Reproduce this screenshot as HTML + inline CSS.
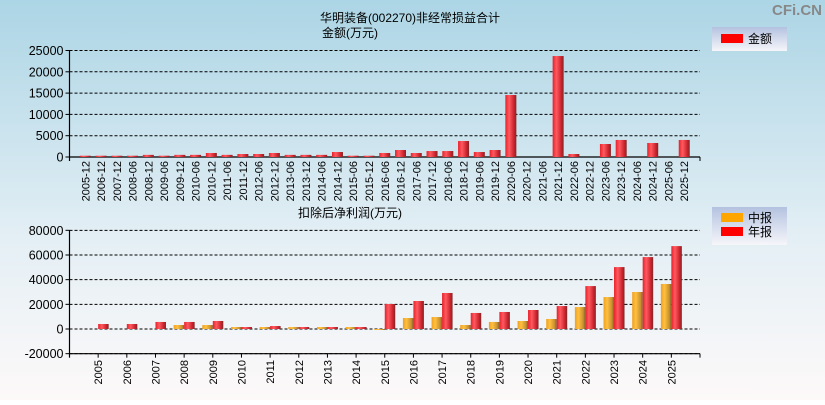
<!DOCTYPE html>
<html><head><meta charset="utf-8"><style>
html,body{margin:0;padding:0;}
body{width:825px;height:400px;overflow:hidden;font-family:"Liberation Sans","Noto Sans CJK SC",sans-serif;}
</style></head><body>
<svg id="c" width="825" height="400" xmlns="http://www.w3.org/2000/svg" style="font-family:'Liberation Sans','Noto Sans CJK SC',sans-serif">
<defs>
<linearGradient id="bg" x1="0" y1="0" x2="0" y2="1"><stop offset="0" stop-color="#acd5e5"/><stop offset="0.6" stop-color="#e4eff5"/><stop offset="1" stop-color="#fdf9f9"/></linearGradient>
<linearGradient id="rg" x1="0" y1="0" x2="1" y2="0"><stop offset="0" stop-color="#e8202a"/><stop offset="0.35" stop-color="#ff5a60"/><stop offset="0.8" stop-color="#c8202a"/><stop offset="1" stop-color="#7a2a2a"/></linearGradient>
<linearGradient id="og" x1="0" y1="0" x2="1" y2="0"><stop offset="0" stop-color="#f0a020"/><stop offset="0.35" stop-color="#ffc040"/><stop offset="0.8" stop-color="#c89030"/><stop offset="1" stop-color="#806030"/></linearGradient>
<linearGradient id="lg" x1="0" y1="0" x2="0" y2="1"><stop offset="0" stop-color="#b4c2e0"/><stop offset="1" stop-color="#f6f6fa"/></linearGradient>
</defs>
<rect width="825" height="400" fill="url(#bg)"/>
<text x="822" y="15" text-anchor="end" font-size="15" font-weight="bold" fill="#888">CFi.CN</text>
<text x="410" y="22" text-anchor="middle" font-size="12">华明装备(002270)非经常损益合计</text>
<text x="322" y="37" font-size="12">金额(万元)</text>
<text x="298" y="217" font-size="12">扣除后净利润(万元)</text>
<g>
<rect x="712" y="27" width="75" height="24" fill="url(#lg)"/>
<rect x="721" y="34" width="22" height="9" fill="#ff0000"/>
<text x="748" y="43" font-size="12">金额</text>
</g>
<g>
<rect x="712" y="207" width="75" height="38" fill="url(#lg)"/>
<rect x="721" y="213" width="22" height="9" fill="#ffa500"/>
<text x="748" y="222" font-size="12">中报</text>
<rect x="721" y="227" width="22" height="9" fill="#ff0000"/>
<text x="748" y="236" font-size="12">年报</text>
</g>
<g id="top"></g><g id="bot"></g>
</svg>
<script>
const topCats=["2005-12","2006-12","2007-12","2008-06","2008-12","2009-06","2009-12","2010-06","2010-12","2011-06","2011-12","2012-06","2012-12","2013-06","2013-12","2014-06","2014-12","2015-06","2015-12","2016-06","2016-12","2017-06","2017-12","2018-06","2018-12","2019-06","2019-12","2020-06","2020-12","2021-06","2021-12","2022-06","2022-12","2023-06","2023-12","2024-06","2024-12","2025-06","2025-12"];
const topVals=[300,300,300,300,500,300,500,500,940,500,700,700,940,500,500,500,1170,300,300,940,1640,940,1400,1400,3750,1170,1640,14550,0,0,23700,700,0,3050,4000,0,3290,0,4000];
const topTicks=[0,5000,10000,15000,20000,25000];
const botCats=["2005","2006","2007","2008","2009","2010","2011","2012","2013","2014","2015","2016","2017","2018","2019","2020","2021","2022","2023","2024","2025"];
const midVals=[0,0,0,3240,3240,1600,1600,1600,1600,1600,-800,8900,9700,3240,5700,6500,8100,17800,25900,30000,36500];
const annVals=[4050,4050,5700,5700,6500,1600,2400,1600,1600,1600,20250,22700,29200,13000,13800,15400,18600,34800,50200,58300,67200];
const botTicks=[-20000,0,20000,40000,60000,80000];

const NS="http://www.w3.org/2000/svg";
function mk(p,t,a,txt){const e=document.createElementNS(NS,t);for(const k in a)e.setAttribute(k,a[k]);if(txt!==undefined)e.textContent=txt;p.appendChild(e);return e;}
const X0=69.5,X1=700;

function axes(g,yf,ticks,ymin,ymax,name){
  ticks.forEach(t=>{const y=yf(t);
    const gl=mk(g,'line',{x1:X0,x2:X1,y1:y,y2:y,stroke:'#000','stroke-dasharray':'3,2','stroke-width':1});
    
    
    const tl=mk(g,'text',{x:X0-6,y:y+4.5,'text-anchor':'end','font-size':12.5},String(t));
    
    
    mk(g,'line',{x1:X0-4,x2:X0,y1:y,y2:y,stroke:'#000'});
  });
  const ya=mk(g,'line',{x1:X0,x2:X0,y1:yf(ymax),y2:yf(ymin)+4,stroke:'#000','stroke-width':1.2});
  
  
}

// top chart
(function(){
  const g=document.getElementById('top');
  const y0=157,ppu=106.5/25000;const yf=v=>y0-v*ppu;
  axes(g,yf,topTicks,0,25000,'top');
  const bw=(X1-X0)/(topCats.length+1);
  const xa=mk(g,'line',{x1:X0,x2:X1,y1:y0,y2:y0,stroke:'#000','stroke-width':1.2});
  
  
  mk(g,'line',{x1:X1,x2:X1,y1:y0,y2:y0+4,stroke:'#000'});
  topCats.forEach((c,i)=>{const cx=X0+(i+1)*bw;const v=topVals[i];
    if(v>0){const b=mk(g,'rect',{x:cx-5.5,y:yf(v),width:11,height:v*ppu,fill:'url(#rg)'});
      
      }
    const t=mk(g,'text',{transform:`translate(${cx+4},161) rotate(-90)`,'text-anchor':'end','font-size':11},c);
    
    
  });
})();

// bottom chart
(function(){
  const g=document.getElementById('bot');
  const y0=329,ppu=24.67/20000;const yf=v=>y0-v*ppu;
  axes(g,yf,botTicks,-20000,80000,'bottom');
  const bw=(X1-X0)/(botCats.length+1);
  const yb=yf(-20000);
  const xa=mk(g,'line',{x1:X0,x2:X1,y1:yb,y2:yb,stroke:'#000','stroke-width':1.2});
  
  
  botCats.forEach((c,i)=>{const cx=X0+(i+1)*bw;
    mk(g,'line',{x1:cx,x2:cx,y1:yb,y2:yb+4,stroke:'#000'});
    const m=midVals[i],a=annVals[i];
    if(m!==0){const b=mk(g,'rect',{x:cx-10.5,y:Math.min(yf(m),y0),width:10.5,height:Math.abs(m)*ppu,fill:'url(#og)'});
      
      }
    if(a!==0){const b=mk(g,'rect',{x:cx,y:Math.min(yf(a),y0),width:10.5,height:Math.abs(a)*ppu,fill:'url(#rg)'});
      
      }
    const t=mk(g,'text',{transform:`translate(${cx+4},360) rotate(-90)`,'text-anchor':'end','font-size':11},c);
    
    
  });
  mk(g,'line',{x1:X1,x2:X1,y1:yb,y2:yb+4,stroke:'#000'});
})();
</script>
</body></html>
